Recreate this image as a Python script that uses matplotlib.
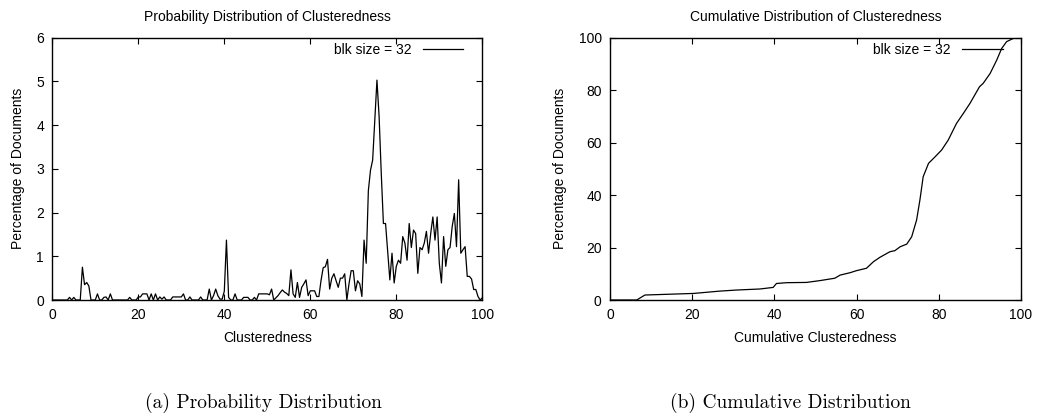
import numpy as np
import matplotlib
matplotlib.use("Agg")
from matplotlib import pyplot as plt

plt.rcParams['font.family'] = ['Liberation Sans', 'DejaVu Sans']

# probability distribution, one value every 0.5 of clusteredness (0 .. 100)
prob_x = np.arange(0, 100.5, 0.5)
prob_pct = [
    0, 0, 0, 0, 0, 0, 0, 0, 0.06, 0,
    0.06, 0, 0, 0, 0.75, 0.35, 0.4, 0.32, 0, 0,
    0, 0.14, 0, 0, 0.06, 0.07, 0, 0.14, 0, 0,
    0, 0, 0, 0, 0, 0, 0.06, 0, 0, 0,
    0.07, 0.07, 0.14, 0.14, 0.14, 0, 0.14, 0, 0.14, 0,
    0.07, 0.02, 0.07, 0, 0, 0, 0.07, 0.07, 0.07, 0.07,
    0.07, 0.14, 0, 0, 0.07, 0, 0, 0, 0, 0.07,
    0, 0, 0, 0.25, 0, 0.1, 0.25, 0.1, 0.02, 0.02,
    0.2, 1.37, 0.06, 0, 0, 0.14, 0, 0, 0, 0.06,
    0.06, 0.06, 0, 0, 0.06, 0, 0.14, 0.14, 0.14, 0.14,
    0.14, 0.12, 0.25, 0, 0.05, 0.1, 0.17, 0.23, 0.18, 0.15,
    0.1, 0.69, 0.14, 0.06, 0.4, 0.06, 0.29, 0.37, 0.46, 0.1,
    0.21, 0.21, 0.21, 0.08, 0.08, 0.45, 0.74, 0.76, 0.93, 0.25,
    0.5, 0.6, 0.44, 0.29, 0.5, 0.5, 0.6, 0.0, 0.37, 0.67,
    0.67, 0.21, 0.44, 0.37, 0.08, 1.37, 0.84, 2.5, 2.97, 3.2,
    4.1, 5.03, 4.2, 2.9, 1.75, 1.75, 1.1, 0.46, 1.07, 0.39,
    0.77, 0.91, 0.84, 1.45, 1.3, 0.91, 1.75, 1.2, 1.6, 1.52,
    0.61, 1.2, 1.15, 1.3, 1.57, 1.07, 1.52, 1.9, 1.37, 1.9,
    0.84, 0.39, 1.45, 0.77, 1.15, 1.2, 1.68, 1.98, 1.22, 2.75,
    1.07, 1.15, 1.22, 0.54, 0.54, 0.48, 0.24, 0.24, 0.08, 0.0,
    0.05,
]

# cumulative distribution
cum_x = [0, 6.5, 8.5, 20.3, 26.8, 30.8, 36.5, 39.7, 40.5, 43, 47.8, 51.1,
         54.7, 56, 58.4, 60, 62.4, 64.1, 65.7, 68.1, 69.3, 70.6, 72.2, 73.4,
         74.6, 75.4, 76.2, 77.5, 79.1, 80.7, 82.3, 84.3, 86, 87.6, 89.9,
         90.8, 92.5, 94.1, 95.3, 96.5, 98.1, 100]
cum_pct = [0, 0, 1.9, 2.5, 3.4, 3.8, 4.2, 4.8, 6.3, 6.6, 6.7, 7.4,
           8.3, 9.5, 10.4, 11.2, 12.1, 14.6, 16.3, 18.4, 18.8, 20.3, 21.3, 24.1,
           30.5, 38.1, 47, 52.1, 54.6, 57.2, 61, 67.3, 71.2, 75, 81.3,
           82.6, 86.4, 91.5, 95.9, 98.5, 99.7, 100]

series_label = "blk size = 32"

fig = plt.figure(figsize=(10.37, 4.2), dpi=100)
W, H = 1037.0, 420.0


def style_axes(ax):
    ax.tick_params(direction='in', length=4, width=0.8, top=True, right=True,
                   labelsize=10, pad=6, colors='black')
    for s in ax.spines.values():
        s.set_linewidth(1.0)
    ax.legend(loc='center right', bbox_to_anchor=(0.955, 0.953), frameon=False,
              markerfirst=False, handlelength=2.9, handletextpad=0.8,
              borderpad=0, borderaxespad=0, fontsize=10)


ax1 = fig.add_axes([52.3 / W, 1 - 300 / H, 430 / W, 262.3 / H])
ax1.plot(prob_x, prob_pct, color='black', lw=0.9, label=series_label)
ax1.set_xlim(0, 100)
ax1.set_ylim(0, 6)
ax1.set_xticks([0, 20, 40, 60, 80, 100])
ax1.set_yticks([0, 1, 2, 3, 4, 5, 6])
ax1.set_title("Probability Distribution of Clusteredness", fontsize=10, pad=12)
ax1.set_xlabel("Clusteredness", fontsize=10, labelpad=6)
ax1.set_ylabel("Percentage of Documents", fontsize=10, labelpad=8)
style_axes(ax1)

ax2 = fig.add_axes([610 / W, 1 - 300 / H, 411 / W, 262.3 / H])
ax2.plot(cum_x, cum_pct, color='black', lw=0.9, label=series_label)
ax2.set_xlim(0, 100)
ax2.set_ylim(0, 100)
ax2.set_xticks([0, 20, 40, 60, 80, 100])
ax2.set_yticks([0, 20, 40, 60, 80, 100])
ax2.set_title("Cumulative Distribution of Clusteredness", fontsize=10, pad=12)
ax2.set_xlabel("Cumulative Clusteredness", fontsize=10, labelpad=6)
ax2.set_ylabel("Percentage of Documents", fontsize=10, labelpad=8)
style_axes(ax2)

fig.text(263 / W, 1 - 403 / H, "(a) Probability Distribution",
         family='cmr10', fontsize=14, ha='center', va='center')
fig.text(790 / W, 1 - 403 / H, "(b) Cumulative Distribution",
         family='cmr10', fontsize=14, ha='center', va='center')

fig.savefig("out.png", dpi=100)
